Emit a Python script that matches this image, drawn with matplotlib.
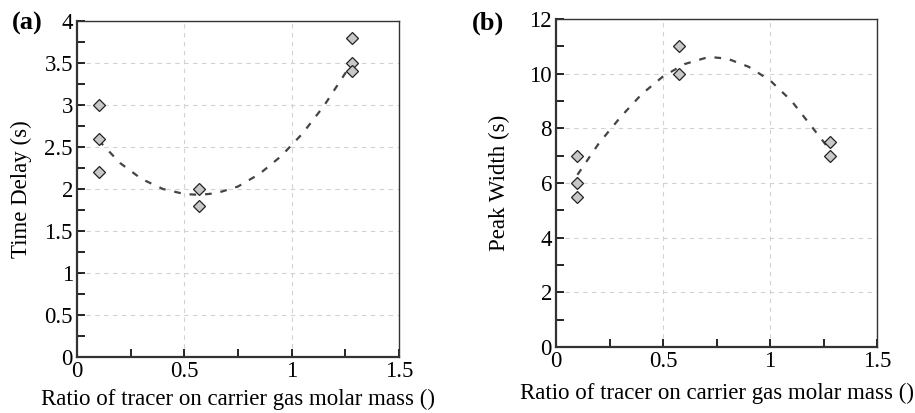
import matplotlib
matplotlib.use('Agg')
from matplotlib import pyplot as plt
from matplotlib.ticker import MultipleLocator

plt.rcParams['font.family'] = 'Liberation Serif'
plt.rcParams['font.size'] = 16.5

# measured points
x_a = [0.1, 0.1, 0.1, 0.57, 0.57, 1.28, 1.28, 1.28]
delay = [3.0, 2.6, 2.2, 2.0, 1.8, 3.8, 3.5, 3.4]
x_b = [0.1, 0.1, 0.1, 0.575, 0.575, 1.28, 1.28]
width = [7.0, 6.0, 5.5, 11.0, 10.0, 7.5, 7.0]

# fitted trend curves
fit_xa = [0.1, 0.2, 0.3, 0.4, 0.5, 0.57, 0.65, 0.75, 0.85, 0.95, 1.05, 1.15, 1.26]
fit_ya = [2.58, 2.31, 2.12, 2.00, 1.94, 1.93, 1.95, 2.03, 2.18, 2.39, 2.66, 2.99, 3.42]
fit_xb = [0.1, 0.2, 0.3, 0.4, 0.5, 0.6, 0.7, 0.73, 0.8, 0.9, 1.0, 1.1, 1.27]
fit_yb = [6.3, 7.45, 8.4, 9.25, 9.9, 10.35, 10.58, 10.6, 10.55, 10.25, 9.75, 9.0, 7.3]

fig = plt.figure(figsize=(9.15, 4.13), dpi=100)
ax1 = fig.add_axes([0.0842, 0.1356, 0.352, 0.8136])
ax2 = fig.add_axes([0.6077, 0.160, 0.351, 0.794])

def style(ax, ymax, ymaj):
	ax.set_xlim(0, 1.5)
	ax.set_ylim(0, ymax)
	ax.xaxis.set_major_locator(MultipleLocator(0.5))
	ax.xaxis.set_minor_locator(MultipleLocator(0.25))
	ax.yaxis.set_major_locator(MultipleLocator(ymaj))
	ax.yaxis.set_minor_locator(MultipleLocator(ymaj / 2))
	ax.xaxis.set_major_formatter(matplotlib.ticker.FuncFormatter(lambda v, p: '%g' % v))
	ax.yaxis.set_major_formatter(matplotlib.ticker.FuncFormatter(lambda v, p: '%g' % v))
	ax.tick_params(which='both', direction='in', top=False, right=False, width=1.2)
	ax.tick_params(which='major', length=6, pad=3)
	ax.tick_params(which='minor', length=6)
	ax.grid(True, which='major', linestyle=(0, (4, 4)), color='#d2d2d2', linewidth=0.8)
	ax.set_axisbelow(True)
	for s in ax.spines.values():
		s.set_linewidth(1.0)
		s.set_color('#333333')
	ax.spines['left'].set_linewidth(1.6)
	ax.spines['bottom'].set_linewidth(1.6)

style(ax1, 4, 0.5)
ax1.plot(fit_xa, fit_ya, color='#444444', linestyle=(0, (3, 4)), linewidth=1.6)
ax1.plot(x_a, delay, 'D', markersize=6.5, markerfacecolor='#c8c8c8', markeredgecolor='#222222', markeredgewidth=0.9)
ax1.set_ylabel('Time Delay (s)', labelpad=9)
ax1.set_xlabel('Ratio of tracer on carrier gas molar mass ()', labelpad=5)

style(ax2, 12, 2)
ax2.plot(fit_xb, fit_yb, color='#444444', linestyle=(0, (3, 4)), linewidth=1.6)
ax2.plot(x_b, width, 'D', markersize=6.5, markerfacecolor='#c8c8c8', markeredgecolor='#222222', markeredgewidth=0.9)
ax2.set_ylabel('Peak Width (s)', labelpad=14)
ax2.set_xlabel('Ratio of tracer on carrier gas molar mass ()', labelpad=8)

fig.text(0.013, 1 - 12 / 413, '(a)', fontsize=19, fontweight='bold', va='top')
fig.text(0.516, 1 - 12 / 413, '(b)', fontsize=19, fontweight='bold', va='top')

fig.savefig('out.png', dpi=100)
